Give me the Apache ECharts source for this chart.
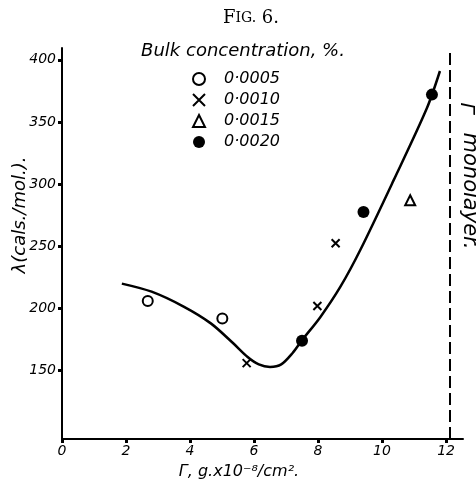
<!DOCTYPE html>
<html>
<head>
<meta charset="utf-8">
<script src="https://cdn.jsdelivr.net/npm/echarts@6/dist/echarts.min.js"></script>
<style>
html,body{margin:0;padding:0;background:#fff;}
#chart{width:476px;height:484px;}
</style>
</head>
<body>
<div id="chart"></div>
<script>
// ---- data ----
const xTicks = [0, 2, 4, 6, 8, 10, 12];
const yTicks = [150, 200, 250, 300, 350, 400];

// fitted curve (hand-drawn line through the points)
const curveX = [1.87, 2.8, 3.8, 4.65, 5.35, 5.8, 6.15, 6.5, 6.85, 7.2, 7.5, 8.07, 8.7, 9.32, 10.36, 11.4, 11.81];
const curveY = [220, 213.5, 201.5, 188, 172, 161, 155, 153, 155, 164, 174.5, 193, 217.5, 247, 303, 361, 391];

// bulk concentration groups
const c0005X = [2.68, 5.01];
const c0005Y = [206, 192];
const c0010X = [5.77, 7.98, 8.55];
const c0010Y = [156, 202, 252.5];
const c0015X = [10.88];
const c0015Y = [287];
const c0020X = [7.5, 9.42, 11.56];
const c0020Y = [174, 277.5, 372];

const monolayerX = 12.12;

const legendNames = ['0·0005', '0·0010', '0·0015', '0·0020'];

// ---- build ----
const zip = (xs, ys) => xs.map((x, i) => [x, ys[i]]);
const FONT = 'DejaVu Sans';
const black = '#000';
const centered = {textAlign: 'center', textVerticalAlign: 'middle', align: 'center', verticalAlign: 'middle'};

const chart = echarts.init(document.getElementById('chart'), null, {renderer: 'canvas'});
chart.setOption({
  animation: false,
  backgroundColor: '#fff',
  title: {
    text: '{a|F}{b|IG.}{a| 6.}',
    left: 246, top: 4, textAlign: 'center',
    textStyle: {
      fontWeight: 'normal',
      rich: {
        a: {fontFamily: 'DejaVu Serif', fontSize: 18, fontWeight: 'normal', color: black},
        b: {fontFamily: 'DejaVu Serif', fontSize: 14, fontWeight: 'normal', color: black}
      }
    }
  },
  grid: {left: 62, right: 13, top: 48, bottom: 45, containLabel: false, outerBoundsMode: 'none'},
  legend: {
    orient: 'vertical',
    left: 187, top: 66,
    itemWidth: 12, itemHeight: 12, itemGap: 5,
    selectedMode: false,
    data: legendNames,
    textStyle: {fontFamily: FONT, fontStyle: 'italic', fontSize: 16, lineHeight: 16, color: black, padding: [0, 0, 0, 14]}
  },
  xAxis: {
    type: 'value', min: 0, max: 12.53,
    axisLine: {onZero: false, lineStyle: {color: black, width: 2}},
    splitLine: {show: false},
    axisTick: {customValues: xTicks, length: 4, lineStyle: {color: black, width: 3}},
    axisLabel: {customValues: xTicks, margin: 5, fontFamily: FONT, fontStyle: 'italic', fontSize: 14, color: black}
  },
  yAxis: {
    type: 'value', min: 95, max: 409.5,
    axisLine: {onZero: false, lineStyle: {color: black, width: 2}},
    splitLine: {show: false},
    axisTick: {customValues: yTicks, length: 4, lineStyle: {color: black, width: 3}},
    axisLabel: {customValues: yTicks, margin: 6, fontFamily: FONT, fontStyle: 'italic', fontSize: 14, color: black}
  },
  graphic: [
    {type: 'text', x: 243, y: 51, style: Object.assign({text: 'Bulk concentration, %.', fontFamily: FONT, fontStyle: 'italic', fontSize: 18, fill: black}, centered)},
    {type: 'text', x: 20, y: 215, rotation: Math.PI / 2, style: Object.assign({text: 'λ(cals./mol.).', fontFamily: FONT, fontStyle: 'italic', fontSize: 18, fill: black}, centered)},
    {type: 'text', x: 239, y: 472, style: Object.assign({text: 'Γ, g.x10⁻⁸/cm².', fontFamily: FONT, fontStyle: 'italic', fontSize: 16, fill: black}, centered)},
    {type: 'text', x: 466, y: 108, rotation: -Math.PI / 2, style: Object.assign({text: 'Γ', fontFamily: FONT, fontStyle: 'italic', fontSize: 20, fill: black}, centered)},
    {type: 'text', x: 469, y: 191, rotation: -Math.PI / 2, style: Object.assign({text: 'monolayer.', fontFamily: FONT, fontStyle: 'italic', fontSize: 21, fill: black}, centered)}
  ],
  series: [
    {
      name: 'curve', type: 'line', data: zip(curveX, curveY), smooth: 0.3,
      showSymbol: false, silent: true,
      lineStyle: {color: black, width: 2.5},
      markLine: {
        silent: true, symbol: 'none', label: {show: false},
        lineStyle: {color: black, width: 2, type: [12, 5]},
        data: [{xAxis: monolayerX}]
      }
    },
    {
      name: legendNames[0], type: 'scatter', data: zip(c0005X, c0005Y),
      symbol: 'emptyCircle', symbolSize: 10, symbolKeepAspect: true,
      itemStyle: {color: black, borderColor: black, borderWidth: 1.6, opacity: 1}
    },
    {
      name: legendNames[1], type: 'scatter', data: zip(c0010X, c0010Y),
      symbol: 'path://M0,0L10,10M10,0L0,10', symbolSize: 8, symbolKeepAspect: true,
      itemStyle: {color: black, borderColor: black, borderWidth: 2, opacity: 1}
    },
    {
      name: legendNames[2], type: 'scatter', data: zip(c0015X, c0015Y),
      symbol: 'emptyTriangle', symbolSize: 10, symbolKeepAspect: true,
      itemStyle: {color: black, borderColor: black, borderWidth: 1.8, opacity: 1}
    },
    {
      name: legendNames[3], type: 'scatter', data: zip(c0020X, c0020Y),
      symbol: 'circle', symbolSize: 12, symbolKeepAspect: true,
      itemStyle: {color: black, opacity: 1}
    }
  ]
});
</script>
</body>
</html>
